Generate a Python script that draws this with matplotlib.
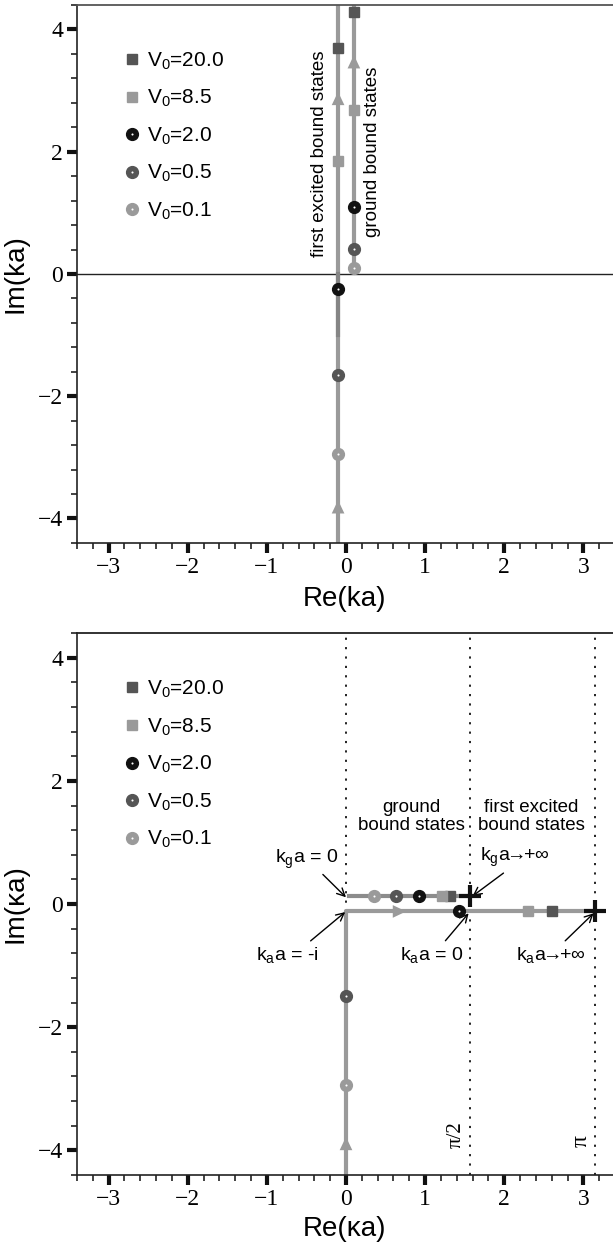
import numpy as np
import matplotlib.pyplot as plt
from matplotlib.ticker import MultipleLocator
from matplotlib.lines import Line2D

plt.rcParams['font.family'] = ['Liberation Sans', 'DejaVu Sans']
plt.rcParams['mathtext.default'] = 'regular'

# potential strengths and their marker styles
V0 = [20.0, 8.5, 2.0, 0.5, 0.1]
colors = ['#555555', '#9a9a9a', '#111111', '#555555', '#9a9a9a']
markers = ['s', 's', 'o', 'o', 'o']

# upper panel: poles on the imaginary axis (Re(ka) = -0.1 / +0.1)
re_exc_top = -0.1
re_gnd_top = 0.1
im_exc_top = [3.70, 1.84, -0.25, -1.66, -2.95]
im_gnd_top = [4.28, 2.69, 1.10, 0.41, 0.10]
arrows_top = [(-0.1, -3.7), (-0.1, 2.98), (0.1, 3.58)]

# lower panel: kappa a
im_gnd_bot = 0.13
re_gnd_bot = [1.32, 1.21, 0.92, 0.63, 0.35]
re_exc_bot = [2.60, 2.30, 1.43, 0.0, 0.0]
im_exc_bot = [-0.12, -0.12, -0.12, -1.50, -2.94]
limits_bot = [(np.pi / 2, 0.13), (np.pi, -0.12)]
vlines_bot = [0, np.pi / 2, np.pi]

GRAY = '#9a9a9a'
SERIF = 'Liberation Serif'


def put_marker(ax, x, y, m, c):
    ms = 7 if m == 's' else 8.5
    ax.plot(x, y, marker=m, ms=ms, color=c, ls='none', zorder=5)
    if m == 'o':
        ax.plot(x, y, 'o', ms=1.5, mew=0, color='white', ls='none', zorder=6)


def put_arrowhead(ax, tip, direction):
    dx, dy = direction
    ax.annotate('', xy=tip, xytext=(tip[0] - dx, tip[1] - dy),
                arrowprops=dict(arrowstyle='-|>,head_length=0.8,head_width=0.38',
                                color=GRAY, lw=0, shrinkA=0, shrinkB=0,
                                mutation_scale=12), zorder=4)


def style_axes(ax, top_color):
    ax.set_xlim(-3.4, 3.375)
    ax.set_ylim(-4.4, 4.4)
    ax.spines['right'].set_visible(False)
    for s in ['left', 'bottom']:
        ax.spines[s].set_linewidth(1.2)
        ax.spines[s].set_color('#222222')
    ax.spines['top'].set_linewidth(1.3)
    ax.spines['top'].set_color(top_color)
    ax.xaxis.set_major_locator(MultipleLocator(1))
    ax.xaxis.set_minor_locator(MultipleLocator(0.2))
    ax.yaxis.set_major_locator(MultipleLocator(2))
    ax.yaxis.set_minor_locator(MultipleLocator(0.4))
    ax.tick_params(which='major', direction='out', length=7, width=3,
                   color='#111111', labelsize=17, pad=3)
    ax.tick_params(which='minor', direction='out', length=4, width=1.2,
                   color='#222222')
    for lab in ax.get_xticklabels() + ax.get_yticklabels():
        lab.set_family(SERIF)


def add_legend(ax):
    handles = []
    for m, c in zip(markers, colors):
        ms = 7 if m == 's' else 8.5
        h = Line2D([], [], marker=m, ms=ms, color=c, ls='none')
        if m == 'o':
            h = (h, Line2D([], [], marker='o', ms=1.5, mew=0, color='white', ls='none'))
        handles.append(h)
    labels = ['V$_0$=%.1f' % v for v in V0]
    ax.legend(handles, labels, loc='upper left', bbox_to_anchor=(0.068, 0.935),
              frameon=False, fontsize=15, handlelength=0.8, handletextpad=0.3,
              labelspacing=0.78, borderpad=0)


fig = plt.figure(figsize=(6.13, 12.45), dpi=100)
ax1 = fig.add_axes([0.1256, 0.5639, 0.8744, 0.4321])
ax2 = fig.add_axes([0.1256, 0.0562, 0.8744, 0.4353])

# ---- upper panel ----
style_axes(ax1, '#555555')
ax1.axhline(0, color='#222222', lw=1.0, zorder=1)
ax1.plot([re_exc_top, re_exc_top], [-4.4, 4.4], color=GRAY, lw=3, zorder=2)
ax1.plot([re_exc_top, re_exc_top], [0, -1.0], color='#858585', lw=3, zorder=2)
ax1.plot([re_gnd_top, re_gnd_top], [im_gnd_top[-1], 4.4], color=GRAY, lw=3, zorder=2)
for tip in arrows_top:
    put_arrowhead(ax1, tip, (0, 0.3))
for y, m, c in zip(im_exc_top, markers, colors):
    put_marker(ax1, re_exc_top, y, m, c)
for y, m, c in zip(im_gnd_top, markers, colors):
    put_marker(ax1, re_gnd_top, y, m, c)
ax1.text(-0.34, 1.96, 'first excited bound states', rotation=90,
         ha='center', va='center', fontsize=13.5)
ax1.text(0.34, 2.0, 'ground bound states', rotation=90,
         ha='center', va='center', fontsize=13.5)
ax1.set_xlabel('Re(ka)', fontsize=20)
ax1.set_ylabel('Im(ka)', fontsize=20)
ax1.xaxis.set_label_coords(0.5, -0.080)
ax1.yaxis.set_label_coords(-0.09, 0.5)
add_legend(ax1)

# ---- lower panel ----
style_axes(ax2, '#222222')
for x in vlines_bot:
    ax2.axvline(x, color='#111111', lw=1.3, ls=(0, (1.2, 4)), zorder=1)
ax2.plot([0.04, np.pi / 2], [im_gnd_bot, im_gnd_bot], color='#8c8c8c', lw=3, zorder=2)
ax2.plot([0, 0, np.pi], [-4.4, -0.12, -0.12], color=GRAY, lw=3, zorder=2)
put_arrowhead(ax2, (0, -3.78), (0, 0.3))
put_arrowhead(ax2, (0.76, -0.12), (0.3, 0))
for x, m, c in zip(re_gnd_bot, markers, colors):
    put_marker(ax2, x, im_gnd_bot, m, c)
for x, y, m, c in zip(re_exc_bot, im_exc_bot, markers, colors):
    put_marker(ax2, x, y, m, c)
for x, y in limits_bot:
    ax2.plot(x, y, '+', ms=16, mew=3, color='#111111', zorder=7)

arrow = '$\\!\\!\\rightarrow\\!\\!$'
notes = [
    ('k$_g$a = 0', (-0.50, 0.73), (0.0, 0.11), (0.7, 0)),
    ('k$_g$a' + arrow + '+∞', (2.14, 0.75), (1.60, 0.13), (0.4, 0)),
    ('k$_a$a = -i', (-0.74, -0.82), (-0.01, -0.13), (0.8, 1)),
    ('k$_a$a = 0', (1.08, -0.82), (1.55, -0.15), (0.67, 1)),
    ('k$_a$a' + arrow + '+∞', (2.59, -0.82), (3.13, -0.15), (0.65, 1)),
]
for txt, xyt, xy, rp in notes:
    ax2.annotate(txt, xy=xy, xytext=xyt, ha='center', va='center', fontsize=14,
                 arrowprops=dict(arrowstyle='->', color='black', lw=1.0,
                                 shrinkA=1, shrinkB=0, relpos=rp))

ax2.text(0.83, 1.42, 'ground\nbound states', ha='center', va='center',
         fontsize=13.5, linespacing=1.1)
ax2.text(2.34, 1.42, 'first excited\nbound states', ha='center', va='center',
         fontsize=13.5, linespacing=1.1)
ax2.text(1.39, -3.74, 'π/2', rotation=90, ha='center', va='center',
         fontsize=15, family=SERIF)
ax2.text(2.97, -3.85, 'π', rotation=90, ha='center', va='center',
         fontsize=17, family=SERIF)
ax2.set_xlabel('Re(κa)', fontsize=20)
ax2.set_ylabel('Im(κa)', fontsize=20)
ax2.xaxis.set_label_coords(0.5, -0.075)
ax2.yaxis.set_label_coords(-0.09, 0.5)
add_legend(ax2)

fig.savefig('out.png', dpi=100)
